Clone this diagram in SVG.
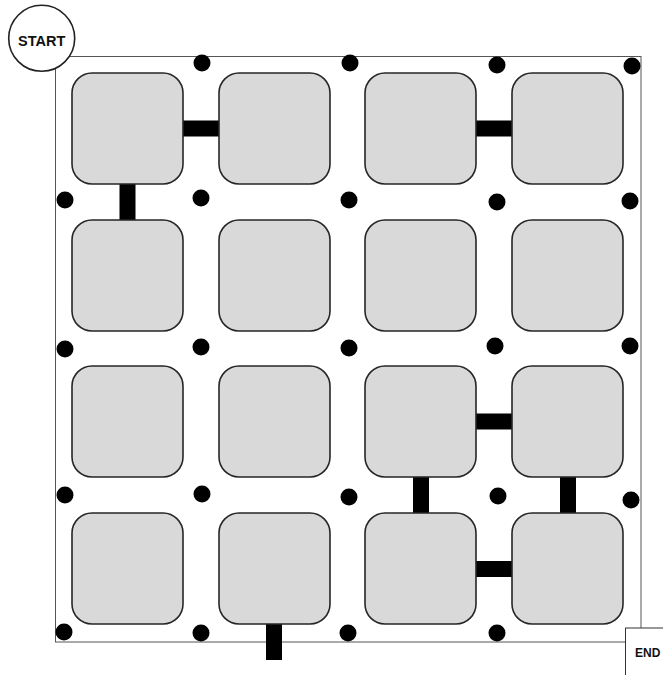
<svg xmlns="http://www.w3.org/2000/svg" width="663" height="675" viewBox="0 0 663 675">
<style>
.node{fill:#d9d9d9;stroke:#262626;stroke-width:1.6}
.bar{stroke:#000;stroke-width:16;fill:none}
.dot{fill:#000}
.border{fill:none;stroke:#555;stroke-width:1}
.lbl{font-family:"Liberation Sans",Arial,sans-serif;font-weight:bold;fill:#111}
</style>
<rect width="663" height="675" fill="#fff"/>
<rect class="border" x="55.5" y="56.5" width="585.5" height="585.5"/>
<g id="connectors">
<line class="bar" x1="127.5" y1="128.5" x2="274.5" y2="128.5"/>
<line class="bar" x1="127.5" y1="128.5" x2="127.5" y2="275"/>
<line class="bar" x1="420.5" y1="128.5" x2="567.5" y2="128.5"/>
<line class="bar" x1="420.5" y1="421.5" x2="567.5" y2="421.5"/>
<line class="bar" x1="421" y1="421.5" x2="421" y2="569"/>
<line class="bar" x1="568" y1="421.5" x2="568" y2="569"/>
<line class="bar" x1="420.5" y1="569" x2="567.5" y2="569"/>
<line class="bar" x1="274" y1="569" x2="274" y2="660"/>
</g>
<g id="dots">
<circle class="dot" cx="202" cy="63" r="8.5"/>
<circle class="dot" cx="350" cy="63" r="8.5"/>
<circle class="dot" cx="497" cy="65" r="8.5"/>
<circle class="dot" cx="632" cy="66" r="8.5"/>
<circle class="dot" cx="65" cy="200" r="8.5"/>
<circle class="dot" cx="201" cy="198" r="8.5"/>
<circle class="dot" cx="349" cy="200" r="8.5"/>
<circle class="dot" cx="497" cy="202" r="8.5"/>
<circle class="dot" cx="630" cy="201" r="8.5"/>
<circle class="dot" cx="65" cy="349" r="8.5"/>
<circle class="dot" cx="201" cy="347" r="8.5"/>
<circle class="dot" cx="349" cy="348" r="8.5"/>
<circle class="dot" cx="495" cy="346" r="8.5"/>
<circle class="dot" cx="630" cy="346" r="8.5"/>
<circle class="dot" cx="65" cy="495" r="8.5"/>
<circle class="dot" cx="202" cy="494" r="8.5"/>
<circle class="dot" cx="349" cy="497" r="8.5"/>
<circle class="dot" cx="498" cy="496" r="8.5"/>
<circle class="dot" cx="631" cy="500" r="8.5"/>
<circle class="dot" cx="64" cy="632" r="8.5"/>
<circle class="dot" cx="201" cy="633" r="8.5"/>
<circle class="dot" cx="348" cy="633" r="8.5"/>
<circle class="dot" cx="497" cy="633" r="8.5"/>
</g>
<g id="n00"><rect class="node" x="72" y="73" width="111" height="111" rx="20"/></g>
<g id="n01"><rect class="node" x="219" y="73" width="111" height="111" rx="20"/></g>
<g id="n02"><rect class="node" x="365" y="73" width="111" height="111" rx="20"/></g>
<g id="n03"><rect class="node" x="512" y="73" width="111" height="111" rx="20"/></g>
<g id="n10"><rect class="node" x="72" y="220" width="111" height="111" rx="20"/></g>
<g id="n11"><rect class="node" x="219" y="220" width="111" height="111" rx="20"/></g>
<g id="n12"><rect class="node" x="365" y="220" width="111" height="111" rx="20"/></g>
<g id="n13"><rect class="node" x="512" y="220" width="111" height="111" rx="20"/></g>
<g id="n20"><rect class="node" x="72" y="366" width="111" height="111" rx="20"/></g>
<g id="n21"><rect class="node" x="219" y="366" width="111" height="111" rx="20"/></g>
<g id="n22"><rect class="node" x="365" y="366" width="111" height="111" rx="20"/></g>
<g id="n23"><rect class="node" x="512" y="366" width="111" height="111" rx="20"/></g>
<g id="n30"><rect class="node" x="72" y="513" width="111" height="111" rx="20"/></g>
<g id="n31"><rect class="node" x="219" y="513" width="111" height="111" rx="20"/></g>
<g id="n32"><rect class="node" x="365" y="513" width="111" height="111" rx="20"/></g>
<g id="n33"><rect class="node" x="512" y="513" width="111" height="111" rx="20"/></g>
<g id="start">
<circle cx="41.7" cy="38.3" r="33" fill="#fff" stroke="#222" stroke-width="1.6"/>
<text class="lbl" x="41.7" y="45.6" text-anchor="middle" font-size="14.5">START</text>
</g>
<g id="end">
<rect x="625.5" y="628" width="70" height="70" fill="#fff" stroke="#333" stroke-width="1"/>
<text class="lbl" x="635" y="656.7" font-size="12">END</text>
</g>
</svg>
